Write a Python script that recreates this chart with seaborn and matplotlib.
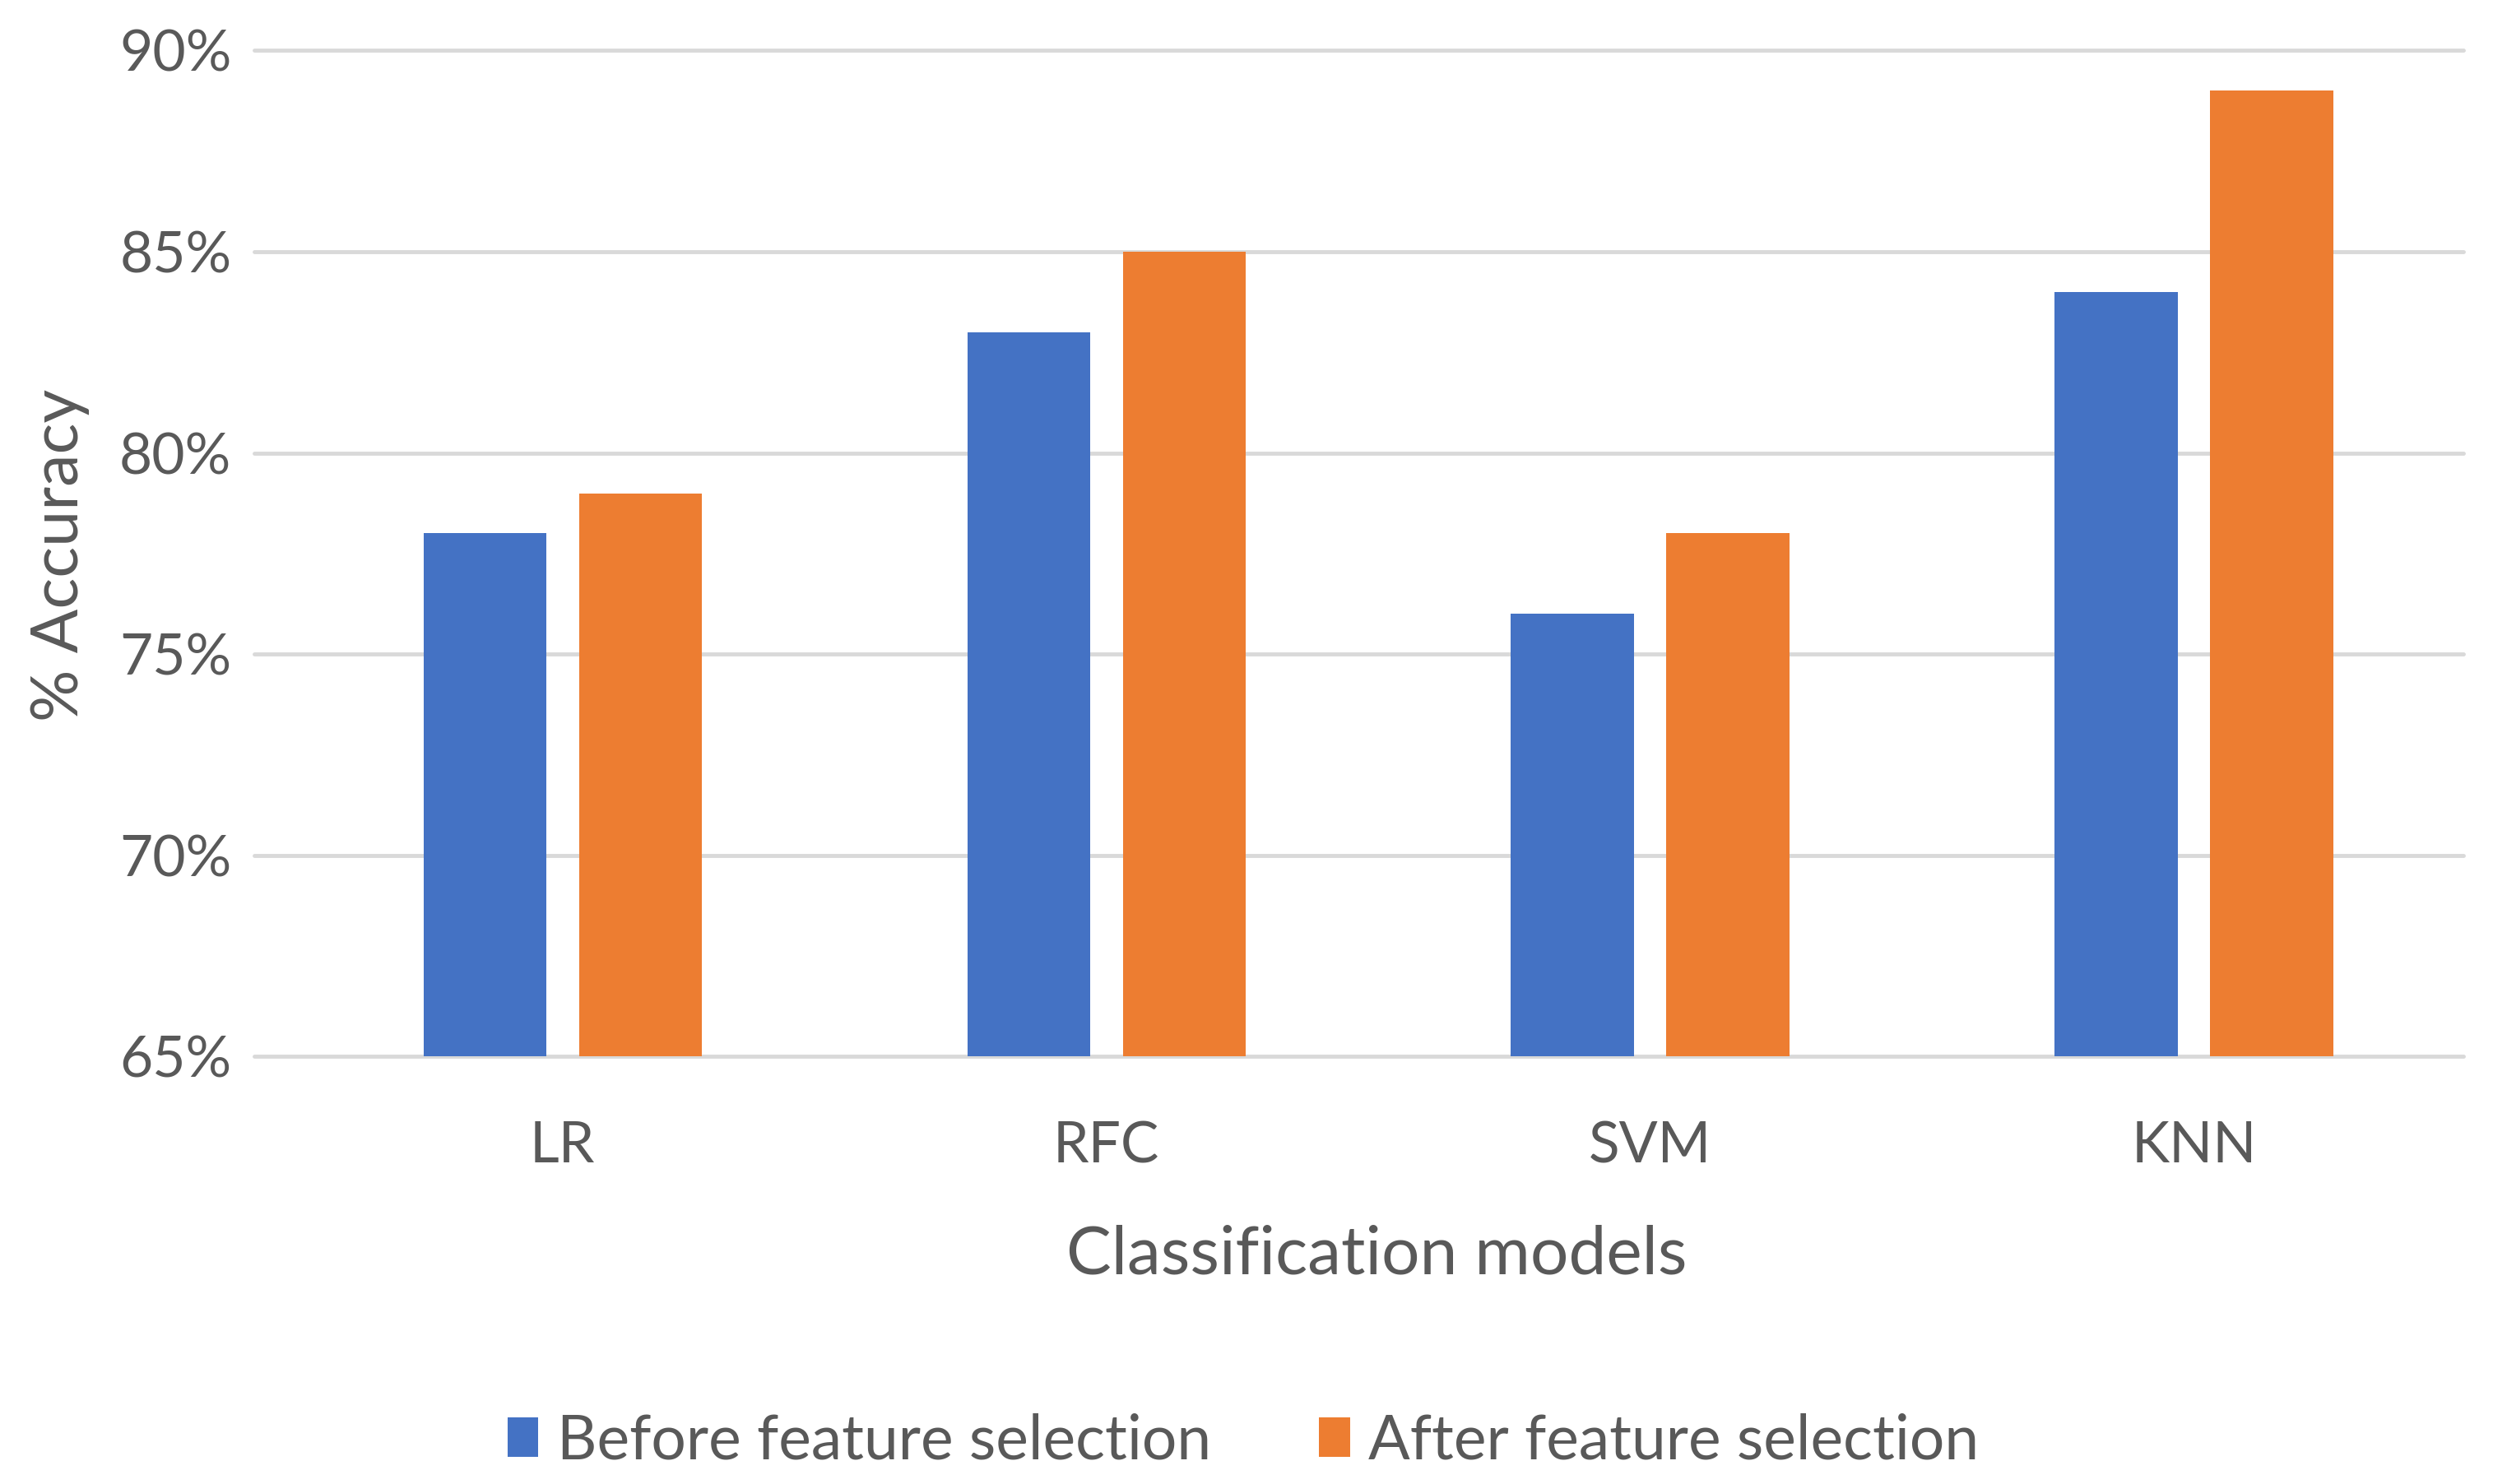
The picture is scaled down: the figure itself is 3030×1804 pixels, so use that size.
import matplotlib
matplotlib.use("Agg")
import matplotlib.pyplot as plt
import seaborn as sns
import pandas as pd
from matplotlib.ticker import FuncFormatter, MultipleLocator
from matplotlib.patches import Patch

models = ["LR", "RFC", "SVM", "KNN"]
before = [78, 83, 76, 84]
after = [79, 85, 78, 89]
series_names = ["Before feature selection", "After feature selection"]
colors = ["#4472C4", "#ED7D31"]

df = pd.DataFrame({
    "model": models * 2,
    "accuracy": before + after,
    "series": [series_names[0]] * len(models) + [series_names[1]] * len(models),
})

sns.set_theme(style="white")
plt.rcParams["font.family"] = ["Lato", "DejaVu Sans"]
TXT = "#595959"
FS = 50

fig = plt.figure(figsize=(30.3, 18.04), dpi=100)
ax = fig.add_axes([0.102, 0.288, 0.886, 0.678])

sns.barplot(data=df, x="model", y="accuracy", hue="series", palette=colors,
            width=0.572, gap=0.21, ax=ax, saturation=1, legend=False,
            linewidth=0)

ax.set_ylim(65, 90)
ax.set_xlim(-0.567, 3.495)
ax.yaxis.set_major_locator(MultipleLocator(5))
ax.yaxis.set_major_formatter(FuncFormatter(lambda v, p: f"{v:.0f}%"))
ax.set_axisbelow(True)
ax.grid(axis="y", color="#D9D9D9", linewidth=3.5)
for gl in ax.get_ygridlines():
    gl.set_clip_on(False)
for s in ax.spines.values():
    s.set_visible(False)
ax.tick_params(axis="both", length=0, labelsize=FS, labelcolor=TXT)
ax.tick_params(axis="y", pad=20)
ax.tick_params(axis="x", pad=56)

ax.set_xlabel("Classification models", fontsize=59, color=TXT)
ax.set_ylabel("% Accuracy", fontsize=57, color=TXT)
ax.xaxis.set_label_coords(0.508, -0.197)
ax.yaxis.set_label_coords(-0.0879, 0.498)
ax.xaxis.label.set_va("center")
ax.yaxis.label.set_va("center")

handles = [Patch(facecolor=c, edgecolor="none") for c in colors]
leg = fig.legend(handles, series_names, loc="center", bbox_to_anchor=(0.4987, 0.029),
                 ncol=2, frameon=False, fontsize=54, handlelength=0.5,
                 handleheight=0.6, handletextpad=0.3, columnspacing=1.75)
for t in leg.get_texts():
    t.set_color(TXT)

fig.savefig("out.png", dpi=100)
